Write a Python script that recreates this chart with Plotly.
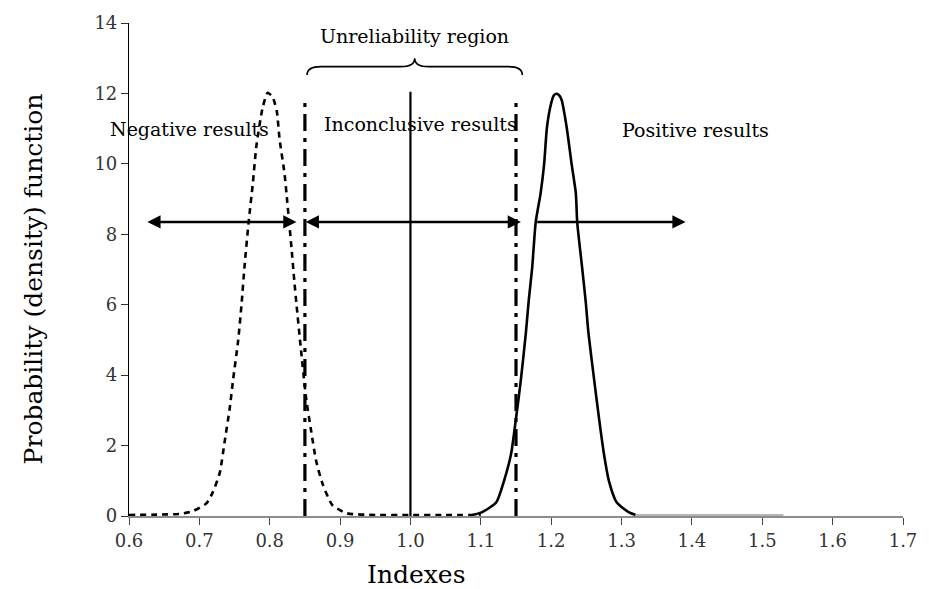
import plotly.graph_objects as go

# Density of the index under the "negative" hypothesis (dashed curve)
neg_x = [0.600, 0.640, 0.672, 0.691, 0.710, 0.719, 0.729, 0.736, 0.743, 0.748,
         0.755, 0.760, 0.764, 0.770, 0.776, 0.781, 0.790, 0.797, 0.804, 0.810,
         0.814, 0.821, 0.825, 0.831, 0.835, 0.838, 0.844, 0.852, 0.859, 0.866,
         0.875, 0.889, 0.909, 0.950, 1.000, 1.050, 1.100]
neg_y = [0.03, 0.04, 0.06, 0.14, 0.36, 0.67, 1.23, 2.12, 3.04, 3.88,
         4.96, 6.02, 7.05, 8.34, 9.45, 10.50, 11.60, 12.02, 11.90, 11.50,
         10.70, 9.73, 8.90, 7.60, 6.66, 6.02, 4.80, 3.30, 2.40, 1.56,
         0.92, 0.31, 0.08, 0.03, 0.03, 0.03, 0.03]

# Density of the index under the "positive" hypothesis (solid curve)
pos_x = [1.088, 1.102, 1.122, 1.133, 1.143, 1.150, 1.157, 1.164, 1.168, 1.173,
         1.178, 1.185, 1.190, 1.194, 1.200, 1.204, 1.208, 1.212, 1.215, 1.222,
         1.229, 1.235, 1.237, 1.244, 1.249, 1.253, 1.261, 1.268, 1.275, 1.282,
         1.293, 1.310, 1.320, 1.330, 1.400, 1.460, 1.530]
pos_y = [0.03, 0.11, 0.39, 1.00, 1.76, 2.77, 3.88, 5.19, 6.10, 7.05,
         8.34, 9.17, 10.00, 11.04, 11.72, 11.95, 11.99, 11.93, 11.80, 11.04,
         10.00, 9.17, 8.34, 7.05, 6.10, 5.19, 3.88, 2.77, 1.76, 1.00,
         0.39, 0.11, 0.03, 0.03, 0.03, 0.03, 0.03]
pos_tail_start = 1.320

# Decision thresholds and the central reference value
bounds = [0.85, 1.15]
bound_top = 11.9
cut = 1.0
cut_top = 12.05

# Horizontal arrows marking the three result zones
arrow_level = 8.35
arrow_from = [0.624, 0.849, 1.178]
arrow_to = [0.838, 1.157, 1.391]
arrow_sides = ["end+start", "end+start", "end"]

# Zone labels
zone_text = ["Negative results", "Inconclusive results", "Positive results"]
zone_x = [0.686, 1.014, 1.405]
zone_y = [10.99, 11.12, 10.96]

# Brace spanning the unreliability region
brace_x = [0.853, 1.159]
brace_end_y, brace_flat_y, brace_tip_y = 12.52, 12.76, 13.0
brace_label = "Unreliability region"
brace_label_y = 13.62

x_ticks = [0.6, 0.7, 0.8, 0.9, 1.0, 1.1, 1.2, 1.3, 1.4, 1.5, 1.6, 1.7]
y_ticks = [0, 2, 4, 6, 8, 10, 12, 14]

SERIF = "DejaVu Serif"

fig = go.Figure()

fig.add_trace(go.Scatter(
    x=neg_x, y=neg_y, mode="lines",
    line=dict(color="black", width=2.6, dash="6px,5px", shape="spline",
              smoothing=0.6),
    hoverinfo="skip"))

main_x = [x for x in pos_x if x <= pos_tail_start]
main_y = pos_y[:len(main_x)]
tail_x = pos_x[len(main_x) - 1:]
tail_y = pos_y[len(main_x) - 1:]
fig.add_trace(go.Scatter(
    x=main_x, y=main_y, mode="lines",
    line=dict(color="black", width=2.6, shape="spline", smoothing=0.6),
    hoverinfo="skip"))
fig.add_trace(go.Scatter(
    x=tail_x, y=tail_y, mode="lines",
    line=dict(color="#b5b5b5", width=2), hoverinfo="skip"))

for b in bounds:
    fig.add_trace(go.Scatter(
        x=[b, b], y=[0, bound_top], mode="lines",
        line=dict(color="black", width=3.2, dash="17px,7px,4px,7px"),
        hoverinfo="skip"))

fig.add_trace(go.Scatter(
    x=[cut, cut], y=[0, cut_top], mode="lines",
    line=dict(color="black", width=2.2), hoverinfo="skip"))

annotations = []
for x0, x1, side in zip(arrow_from, arrow_to, arrow_sides):
    annotations.append(dict(
        x=x1, y=arrow_level, ax=x0, ay=arrow_level,
        xref="x", yref="y", axref="x", ayref="y",
        text="", showarrow=True, arrowhead=2, arrowside=side,
        arrowsize=1.1, arrowwidth=2.4, arrowcolor="black",
        standoff=0, startstandoff=0))

label_font = dict(family=SERIF, size=19, color="black")
for t, x, y in zip(zone_text, zone_x, zone_y):
    annotations.append(dict(
        x=x, y=y, xref="x", yref="y", text=t, showarrow=False,
        xanchor="center", yanchor="middle", font=label_font))

annotations.append(dict(
    x=(brace_x[0] + brace_x[1]) / 2, y=brace_label_y, xref="x", yref="y",
    text=brace_label, showarrow=False, xanchor="center", yanchor="middle",
    font=label_font))

annotations.append(dict(
    x=0.372, y=-0.118, xref="paper", yref="paper", text="Indexes",
    xanchor="center", yanchor="middle",
    showarrow=False, font=dict(family=SERIF, size=25, color="black")))
annotations.append(dict(
    x=-0.124, y=0.48, xref="paper", yref="paper",
    text="Probability (density) function", textangle=-90,
    xanchor="center", yanchor="middle",
    showarrow=False, font=dict(family=SERIF, size=25, color="black")))

# Curly brace as a path in data coordinates
bx0, bx1 = brace_x
bm = (bx0 + bx1) / 2
dx = 0.02
brace_path = (
    f"M {bx0},{brace_end_y} Q {bx0},{brace_flat_y} {bx0 + dx},{brace_flat_y} "
    f"L {bm - dx},{brace_flat_y} Q {bm},{brace_flat_y} {bm},{brace_tip_y} "
    f"Q {bm},{brace_flat_y} {bm + dx},{brace_flat_y} "
    f"L {bx1 - dx},{brace_flat_y} Q {bx1},{brace_flat_y} {bx1},{brace_end_y}")
shapes = [dict(type="path", xref="x", yref="y", path=brace_path,
               line=dict(color="black", width=1.6))]

fig.update_layout(
    width=929, height=589,
    margin=dict(l=129, r=24, t=14, b=73),
    paper_bgcolor="white", plot_bgcolor="white",
    showlegend=False,
    annotations=annotations, shapes=shapes,
    xaxis=dict(
        range=[0.6, 1.7], tickvals=x_ticks,
        ticktext=[f"{v:.1f}" for v in x_ticks],
        showgrid=False, zeroline=False,
        showline=True, linecolor="#8c8c8c", linewidth=2,
        ticks="outside", ticklen=7, tickwidth=1.2, tickcolor="#444",
        tickfont=dict(family=SERIF, size=18, color="#333"),
    ),
    yaxis=dict(
        range=[0, 14], tickvals=y_ticks,
        showgrid=False, zeroline=False,
        showline=True, linecolor="black", linewidth=1.2,
        ticks="outside", ticklen=7, tickwidth=1.2, tickcolor="#333",
        tickfont=dict(family=SERIF, size=18, color="#333"),
    ),
)

fig.write_html("out.html")
